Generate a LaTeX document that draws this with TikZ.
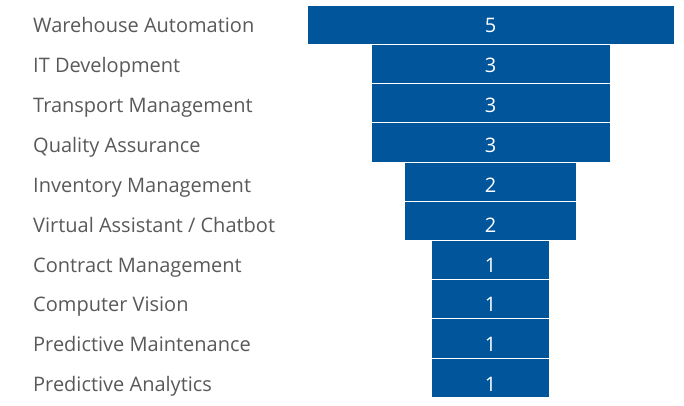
\documentclass[tikz,border=0pt]{standalone}
\usepackage{fontspec}
\setmainfont{Open Sans}
\usepackage{tikz}
\usetikzlibrary{positioning}
\definecolor{barblue}{RGB}{0,85,155}
\definecolor{labelgray}{RGB}{89,89,89}
\tikzstyle{bar} = [rectangle, draw=white, line width=0.8pt, fill=barblue,
    minimum height=39.2pt, inner sep=0pt, node distance=39.2pt]
\tikzstyle{num} = [text=white, inner sep=0pt, anchor=base,
    font=\fontsize{20}{24}\selectfont]
\tikzstyle{label} = [text=labelgray, inner sep=0pt,
    font=\fontsize{20}{24}\selectfont]

\begin{document}
\begin{tikzpicture}[node distance = 39.9pt]
    \useasboundingbox (0,0) rectangle (684pt,-405pt);
    % Place bars
    \node [bar, minimum width=367pt] (b1) at (490.5pt,-24.8pt) {};
    \node [bar, minimum width=239pt, below of=b1] (b2) {};
    \node [bar, minimum width=239pt, below of=b2] (b3) {};
    \node [bar, minimum width=239pt, below of=b3] (b4) {};
    \node [bar, minimum width=172pt, below of=b4] (b5) {};
    \node [bar, minimum width=172pt, below of=b5] (b6) {};
    \node [bar, minimum width=118pt, below of=b6] (b7) {};
    \node [bar, minimum width=118pt, below of=b7] (b8) {};
    \node [bar, minimum width=118pt, below of=b8] (b9) {};
    \node [bar, minimum width=118pt, below of=b9] (b10) {};
    % Place labels
    \node [label, anchor=base west] (l1) at (33pt,-32.6pt) {Warehouse Automation};
    \node [label, below=of l1.base west, anchor=base west] (l2) {IT Development};
    \node [label, below=of l2.base west, anchor=base west] (l3) {Transport Management};
    \node [label, below=of l3.base west, anchor=base west] (l4) {Quality Assurance};
    \node [label, below=of l4.base west, anchor=base west] (l5) {Inventory Management};
    \node [label, below=of l5.base west, anchor=base west] (l6) {Virtual Assistant / Chatbot};
    \node [label, below=of l6.base west, anchor=base west] (l7) {Contract Management};
    \node [label, below=of l7.base west, anchor=base west] (l8) {Computer Vision};
    \node [label, below=of l8.base west, anchor=base west] (l9) {Predictive Maintenance};
    \node [label, below=of l9.base west, anchor=base west] (l10) {Predictive Analytics};
    % Place values
    \node [num] (n1) at (b1 |- l1.base) {5};
    \node [num] (n2) at (b2 |- l2.base) {3};
    \node [num] (n3) at (b3 |- l3.base) {3};
    \node [num] (n4) at (b4 |- l4.base) {3};
    \node [num] (n5) at (b5 |- l5.base) {2};
    \node [num] (n6) at (b6 |- l6.base) {2};
    \node [num] (n7) at (b7 |- l7.base) {1};
    \node [num] (n8) at (b8 |- l8.base) {1};
    \node [num] (n9) at (b9 |- l9.base) {1};
    \node [num] (n10) at (b10 |- l10.base) {1};
\end{tikzpicture}
\end{document}
